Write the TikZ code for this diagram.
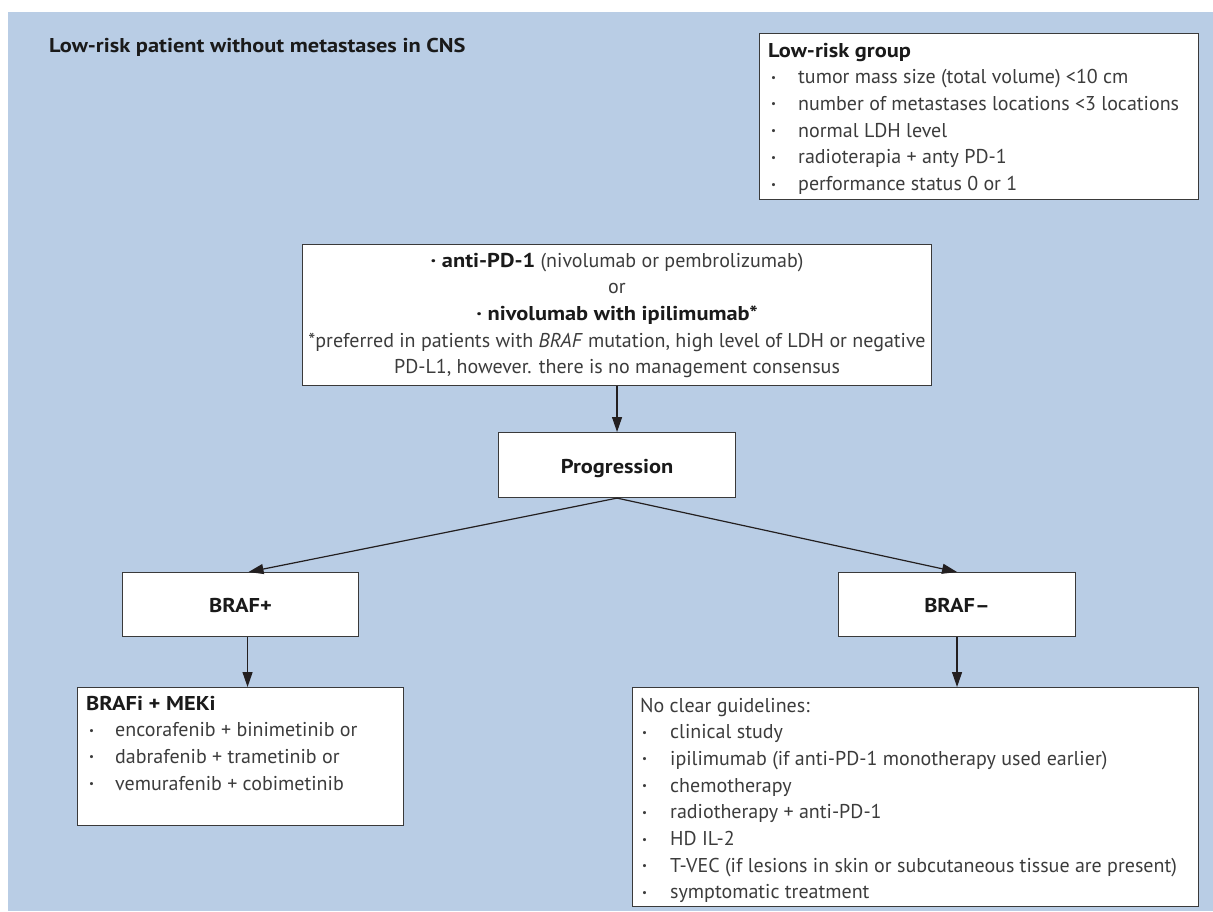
\documentclass[tikz,border=0pt]{standalone}
\usepackage{fontspec}
\setmainfont{PT Sans}[BoldFeatures={FakeStretch=1.12}]
\usetikzlibrary{arrows.meta}
\definecolor{bgblue}{HTML}{B9CDE5}
\definecolor{boxline}{HTML}{3A3A3A}
\definecolor{arrowc}{HTML}{231F20}
\definecolor{textdark}{HTML}{1A1A1A}
\definecolor{textgray}{HTML}{3C3C3C}
\newcommand\bul{\raisebox{2.5pt}{\fontsize{11}{11}\selectfont\textbullet}}
\newcommand\hd[1]{\textcolor{textdark}{\textbf{#1}}}
\begin{document}
\begin{tikzpicture}[x=1pt,y=-1pt,
  box/.style={draw=boxline, fill=white, line width=1.1pt, inner sep=0pt, anchor=north west},
  lbl/.style={box, text=textdark, font=\fontsize{20}{26.7}\selectfont\bfseries, text height=16pt, text depth=0pt},
  txt/.style={inner sep=0pt, anchor=base west, text=textgray, font=\fontsize{20}{26.7}\selectfont},
  arr/.style={draw=arrowc, line width=1.2pt, -{Stealth[length=15pt,width=10pt,inset=0pt]}}]
\useasboundingbox (0,0) rectangle (1213,911);
\fill[bgblue] (8,12) rectangle (1213,911);

% title
\node[txt, text=textdark] (title) at (49,52) {\textbf{Low-risk patient without metastases in CNS}};

% low-risk group box
\node[box, minimum width=439pt, minimum height=166pt] (lrg) at (759,33) {};
\node[txt] (lrgt) at (768,57) {\begin{tabular}[t]{@{}p{30pt}@{}l@{}}
\multicolumn{2}{@{}l@{}}{\hd{Low-risk group}}\\
\hspace{3pt}\bul & tumor mass size (total volume) <10 cm\\
\hspace{3pt}\bul & number of metastases locations <3 locations\\
\hspace{3pt}\bul & normal LDH level\\
\hspace{3pt}\bul & radioterapia + anty PD-1\\
\hspace{3pt}\bul & performance status 0 or 1
\end{tabular}};

% first-line treatment box
\node[box, minimum width=629pt, minimum height=141pt] (top) at (302,244) {};
\node[txt, anchor=base] (topt) at (617,267) {\begin{tabular}[t]{@{}c@{}}
\hd{· anti-PD-1} (nivolumab or pembrolizumab)\\
or\\
\hd{· nivolumab with ipilimumab*}\\
{*}preferred in patients with \textit{BRAF} mutation, high level of LDH or negative\\
PD-L1, however. there is no management consensus
\end{tabular}};

% progression
\node[lbl, minimum width=237pt, minimum height=65pt] (prog) at (498,432) {Progression};

% BRAF boxes
\node[lbl, minimum width=236pt, minimum height=64pt] (bpos) at (122,572) {BRAF+};
\node[lbl, minimum width=237pt, minimum height=64pt] (bneg) at (838,572) {BRAF–};

% BRAFi + MEKi box
\node[box, minimum width=326pt, minimum height=138pt] (bfi) at (77,687) {};
\node[txt] (bfit) at (86,710) {\begin{tabular}[t]{@{}p{29pt}@{}l@{}}
\multicolumn{2}{@{}l@{}}{\hd{BRAFi + MEKi}}\\
\hspace{3pt}\bul & encorafenib + binimetinib or\\
\hspace{3pt}\bul & dabrafenib + trametinib or\\
\hspace{3pt}\bul & vemurafenib + cobimetinib
\end{tabular}};

% no clear guidelines box
\node[box, minimum width=566pt, minimum height=219pt] (ncg) at (632,687) {};
\node[txt] (ncgt) at (640,712) {\begin{tabular}[t]{@{}p{30pt}@{}l@{}}
\multicolumn{2}{@{}l@{}}{No clear guidelines:}\\
\hspace{2pt}\bul & clinical study\\
\hspace{2pt}\bul & ipilimumab (if anti-PD-1 monotherapy used earlier)\\
\hspace{2pt}\bul & chemotherapy\\
\hspace{2pt}\bul & radiotherapy + anti-PD-1\\
\hspace{2pt}\bul & HD IL-2\\
\hspace{2pt}\bul & T-VEC (if lesions in skin or subcutaneous tissue are present)\\
\hspace{2pt}\bul & symptomatic treatment
\end{tabular}};

% connectors
\draw[arr] (top.south) -- (prog.north);
\draw[arr] (prog.south) -- ([xshift=8pt]bpos.north);
\draw[arr] (prog.south) -- (bneg.north);
\draw[arr] ([xshift=7pt]bpos.south) -- ([xshift=7pt]bfi.north);
\draw[arr] (bneg.south) -- (bneg.south |- ncg.north);
\end{tikzpicture}
\end{document}
